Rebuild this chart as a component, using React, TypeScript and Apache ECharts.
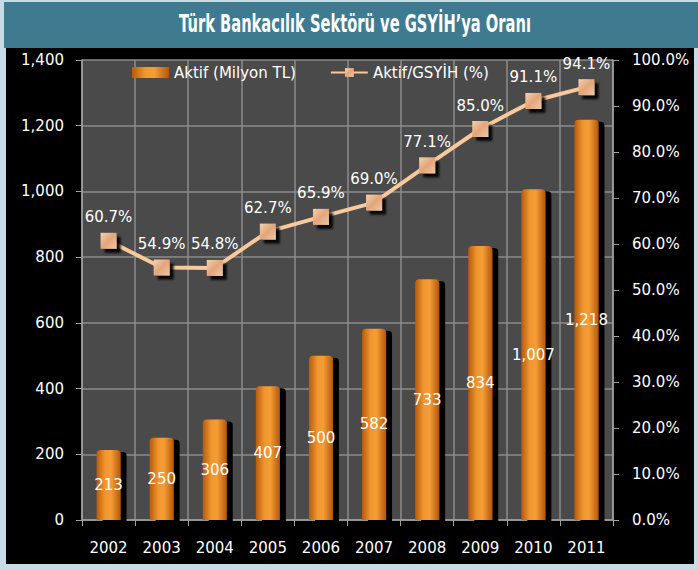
import React, { useEffect, useRef } from "react";
import * as echarts from "echarts";

const years = ["2002", "2003", "2004", "2005", "2006", "2007", "2008", "2009", "2010", "2011"];
const assets = [213, 250, 306, 407, 500, 582, 733, 834, 1007, 1218];
const ratio = [60.7, 54.9, 54.8, 62.7, 65.9, 69.0, 77.1, 85.0, 91.1, 94.1];
const titleText = "Türk Bankacılık Sektörü ve GSYİH’ya Oranı";
const barName = "Aktif (Milyon TL)";
const lineName = "Aktif/GSYİH (%)";

const FONT = "'DejaVu Sans', Verdana, sans-serif";

export default function App() {
  const ref = useRef<HTMLDivElement>(null);
  useEffect(() => {
    const chart = echarts.init(ref.current!, null, { renderer: "svg" });
    const fmtNum = (v: number) => v.toLocaleString("en-US");
    chart.setOption({
      animation: false,
      backgroundColor: "#c6dce6",
      graphic: [
        { type: "rect", shape: { x: 4, y: 2, width: 694, height: 46 }, style: { fill: "#3e7b91" }, z: -10 },
        { type: "rect", shape: { x: 6, y: 48, width: 688, height: 516 }, style: { fill: "#000000" }, z: -10 },
        {
          type: "text",
          x: 355,
          y: 24,
          scaleX: 0.68,
          style: {
            text: titleText,
            fill: "#ffffff",
            fontSize: 24,
            fontWeight: "bold",
            fontFamily: "'DejaVu Sans Condensed', 'DejaVu Sans', sans-serif",
            align: "center",
            verticalAlign: "middle",
          },
        },
      ],
      legend: {
        left: 127,
        top: 60,
        itemWidth: 37,
        itemHeight: 11,
        itemGap: 34,
        textStyle: { color: "#ffffff", fontSize: 15, fontFamily: FONT },
        data: [
          { name: barName, icon: "rect" },
          { name: lineName },
        ],
      },
      grid: {
        left: 82,
        right: 85,
        top: 60,
        bottom: 50,
        show: true,
        backgroundColor: "#4a4a4a",
        borderWidth: 0,
      },
      xAxis: {
        type: "category",
        data: years,
        boundaryGap: true,
        axisLine: { lineStyle: { color: "#a0a0a0", width: 1.5 } },
        axisTick: { show: true, length: 6, lineStyle: { color: "#a0a0a0" } },
        axisLabel: { color: "#ffffff", fontSize: 15, margin: 20, fontFamily: FONT },
        splitLine: { show: true, lineStyle: { color: "#8c8c8c", width: 1.5 } },
      },
      yAxis: [
        {
          type: "value",
          min: 0,
          max: 1400,
          interval: 200,
          axisLine: { show: true, lineStyle: { color: "#a0a0a0", width: 1.5 } },
          axisTick: { show: true, length: 6, lineStyle: { color: "#a0a0a0" } },
          axisLabel: { color: "#ffffff", fontSize: 15, margin: 18, fontFamily: FONT, formatter: fmtNum },
          splitLine: { show: true, lineStyle: { color: "#8c8c8c", width: 1.5 } },
        },
        {
          type: "value",
          min: 0,
          max: 100,
          interval: 10,
          position: "right",
          axisLine: { show: true, lineStyle: { color: "#a0a0a0", width: 1.5 } },
          axisTick: { show: true, length: 6, lineStyle: { color: "#a0a0a0" } },
          axisLabel: {
            color: "#ffffff",
            fontSize: 15,
            margin: 19,
            fontFamily: FONT,
            formatter: (v: number) => v.toFixed(1) + "%",
          },
          splitLine: { show: false },
        },
      ],
      series: [
        {
          name: barName,
          type: "bar",
          data: assets,
          barWidth: 24,
          itemStyle: {
            color: new echarts.graphic.LinearGradient(0, 0, 1, 0, [
              { offset: 0, color: "#b85a0c" },
              { offset: 0.35, color: "#f0962e" },
              { offset: 0.6, color: "#f59d35" },
              { offset: 1, color: "#b4580c" },
            ]),
            borderRadius: [4, 4, 0, 0],
            shadowColor: "rgba(0,0,0,1)",
            shadowOffsetX: 6,
            shadowOffsetY: 2,
            shadowBlur: 1,
          },
          label: {
            show: true,
            position: "inside",
            color: "#ffffff",
            fontSize: 15,
            fontFamily: FONT,
            formatter: (p: any) => fmtNum(p.value),
          },
        },
        {
          name: lineName,
          type: "line",
          yAxisIndex: 1,
          data: ratio,
          symbol: "rect",
          symbolSize: 16,
          lineStyle: { color: "#f8c99d", width: 4 },
          itemStyle: {
            color: new echarts.graphic.LinearGradient(0, 0, 1, 1, [
              { offset: 0, color: "#f3d2b0" },
              { offset: 0.5, color: "#e3a57a" },
              { offset: 1, color: "#f0c8a4" },
            ]),
            shadowColor: "rgba(0,0,0,0.9)",
            shadowOffsetX: 4,
            shadowOffsetY: 4,
            shadowBlur: 2,
          },
          label: {
            show: true,
            position: "top",
            distance: 8,
            color: "#ffffff",
            fontSize: 15,
            fontFamily: FONT,
            formatter: (p: any) => p.value.toFixed(1) + "%",
          },
          z: 5,
        },
      ],
    });
    return () => chart.dispose();
  }, []);
  return <div ref={ref} style={{ position: "fixed", left: 0, top: 0, width: 698, height: 570 }} />;
}
